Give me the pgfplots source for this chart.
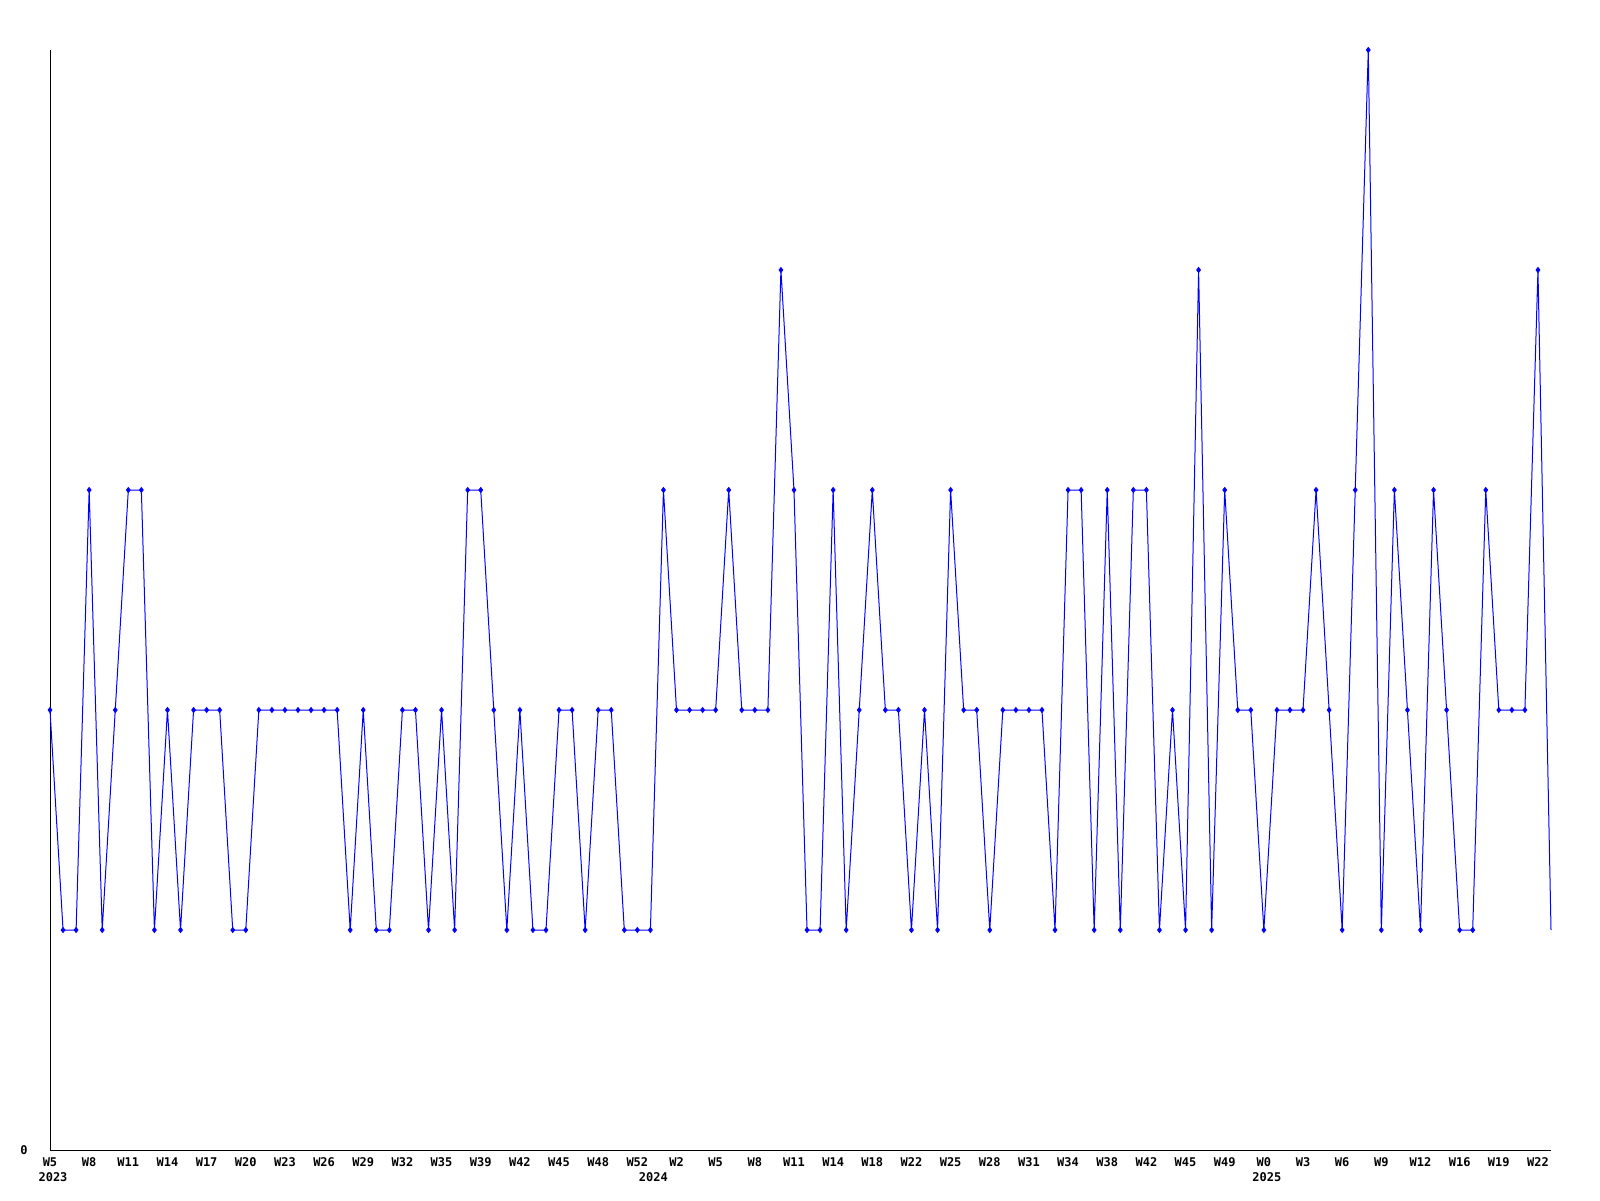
\documentclass[border=0pt]{standalone}
\usepackage{pgfplots}
\pgfplotsset{compat=1.18}
\usepackage{fontspec}
\setmainfont{DejaVu Sans Mono}[BoldFont={DejaVu Sans Mono Bold}]
\pgfplotstableread{
x y
0 2
1 1
2 1
3 3
4 1
5 2
6 3
7 3
8 1
9 2
10 1
11 2
12 2
13 2
14 1
15 1
16 2
17 2
18 2
19 2
20 2
21 2
22 2
23 1
24 2
25 1
26 1
27 2
28 2
29 1
30 2
31 1
32 3
33 3
34 2
35 1
36 2
37 1
38 1
39 2
40 2
41 1
42 2
43 2
44 1
45 1
46 1
47 3
48 2
49 2
50 2
51 2
52 3
53 2
54 2
55 2
56 4
57 3
58 1
59 1
60 3
61 1
62 2
63 3
64 2
65 2
66 1
67 2
68 1
69 3
70 2
71 2
72 1
73 2
74 2
75 2
76 2
77 1
78 3
79 3
80 1
81 3
82 1
83 3
84 3
85 1
86 2
87 1
88 4
89 1
90 3
91 2
92 2
93 1
94 2
95 2
96 2
97 3
98 2
99 1
100 3
101 5
102 1
103 3
104 2
105 1
106 3
107 2
108 1
109 1
110 3
111 2
112 2
113 2
114 4
115 1
}\datatable
\begin{document}
\begin{tikzpicture}
\begin{axis}[
  at={(0,0)}, anchor=south west,
  scale only axis, width=750.5pt, height=550pt,
  xmin=0, xmax=115, ymin=0, ymax=5,
  axis x line*=bottom, axis y line*=left,
  axis line style={-, black, line width=0.5pt},
  major tick length=0pt,
  xtick={0,3,...,114},
  xticklabels={W5,W8,W11,W14,W17,W20,W23,W26,W29,W32,W35,W39,W42,W45,W48,W52,W2,W5,W8,W11,W14,W18,W22,W25,W28,W31,W34,W38,W42,W45,W49,W0,W3,W6,W9,W12,W16,W19,W22},
  ytick={0},
  /pgf/number format/assume math mode=true,
  ticklabel style={font=\fontsize{6}{7}\selectfont\bfseries, inner sep=0pt},
  xticklabel style={anchor=north, yshift=-3.7pt},
  yticklabel style={anchor=east, xshift=-11pt},
  clip=false,
]
\addplot[color={rgb,255:red,0;green,0;blue,255}, line width=0.5pt,
  mark=diamond*, mark size=1.2pt, mark indices={1,...,115}] table[x=x,y=y] {\datatable};
\node[anchor=north, inner sep=0pt, font=\fontsize{6}{7}\selectfont\bfseries, xshift=1.5pt, yshift=-11.3pt] at (axis cs:0,0) {2023};
\node[anchor=north, inner sep=0pt, font=\fontsize{6}{7}\selectfont\bfseries, xshift=1.5pt, yshift=-11.3pt] at (axis cs:46,0) {2024};
\node[anchor=north, inner sep=0pt, font=\fontsize{6}{7}\selectfont\bfseries, xshift=1.5pt, yshift=-11.3pt] at (axis cs:93,0) {2025};
\end{axis}
\pgfresetboundingbox
\path[use as bounding box] (-25pt,-25pt) rectangle (775pt,575pt);
\end{tikzpicture}
\end{document}
